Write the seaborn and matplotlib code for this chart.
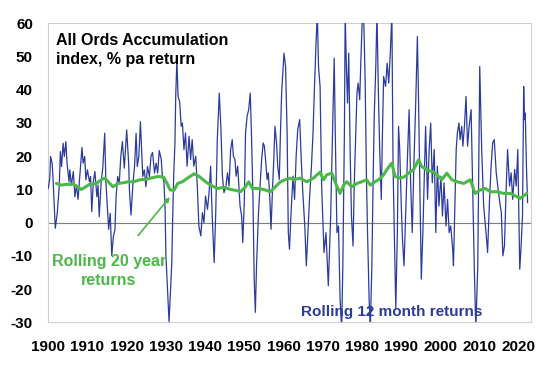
import matplotlib
matplotlib.use("Agg")
import matplotlib.pyplot as plt
import pandas as pd
import seaborn as sns

# Rolling 12 month returns (% pa)
years_12m = [
    1900.0, 1900.4, 1900.6, 1901.0, 1901.2, 1901.8, 1902.3, 1902.8, 1903.1, 1903.4,
    1903.8, 1904.1, 1904.5, 1904.8, 1905.3, 1905.5, 1905.9, 1906.4, 1906.8, 1907.2,
    1907.6, 1908.1, 1908.6, 1908.9, 1909.3, 1909.6, 1910.0, 1910.5, 1910.8, 1911.1,
    1911.5, 1911.9, 1912.4, 1912.7, 1913.0, 1913.5, 1913.9, 1914.4, 1914.7, 1915.4,
    1915.8, 1916.2, 1916.6, 1917.0, 1917.3, 1917.7, 1918.1, 1918.5, 1918.9, 1919.4,
    1920.0, 1920.5, 1920.7, 1921.1, 1921.6, 1922.0, 1922.4, 1922.7, 1923.1, 1923.5,
    1923.8, 1924.1, 1924.5, 1924.9, 1925.3, 1925.8, 1926.2, 1926.6, 1927.1, 1927.5,
    1927.9, 1928.3, 1928.8, 1929.1, 1929.5, 1929.8, 1930.0, 1930.4, 1930.8, 1931.1,
    1931.5, 1931.7, 1932.0, 1932.3, 1932.5, 1932.8, 1933.1, 1933.5,
    1933.9, 1934.2, 1934.6, 1935.0, 1935.4, 1935.9, 1936.3, 1936.7, 1937.1, 1937.6,
    1938.0, 1938.4, 1938.9, 1939.3, 1939.7, 1940.1, 1940.6, 1941.0, 1941.4, 1941.8,
    1942.3, 1942.7, 1943.1, 1943.6, 1944.0, 1944.4, 1944.8, 1945.3, 1945.7, 1946.1,
    1946.5, 1946.9, 1947.2, 1947.6, 1947.9, 1948.3, 1948.6, 1948.9, 1949.3, 1949.6,
    1950.0, 1950.3, 1950.7, 1951.1, 1951.5, 1951.8, 1952.2, 1952.5, 1952.8, 1953.1,
    1953.6, 1954.0, 1954.4, 1954.8, 1955.1, 1955.4, 1955.8, 1956.1, 1956.5, 1956.8,
    1957.2, 1957.5, 1957.8, 1958.2, 1958.5, 1958.9, 1959.2, 1959.5, 1960.1, 1960.5,
    1960.9, 1961.2, 1961.5, 1961.9, 1962.4, 1962.8, 1963.2, 1963.6, 1964.1, 1964.5,
    1964.9, 1965.4, 1965.8, 1966.2, 1966.6, 1967.1, 1967.5, 1967.9, 1968.3, 1968.6,
    1968.9, 1969.3,
    1969.7, 1970.3, 1970.8, 1971.4, 1972.0, 1972.5, 1972.9, 1973.2, 1973.6, 1974.0,
    1974.4, 1974.8, 1975.1, 1975.5, 1975.7, 1976.0, 1976.3, 1976.6, 1977.0, 1977.3,
    1977.7, 1978.0, 1978.4, 1978.7, 1979.0, 1979.4, 1979.7, 1980.1, 1980.4, 1980.8,
    1981.1, 1981.4, 1981.8, 1982.1, 1982.5, 1982.8, 1983.1, 1983.5, 1983.8, 1984.2,
    1984.5, 1984.9, 1985.2, 1985.5, 1986.0, 1986.4, 1986.8, 1987.2, 1987.6, 1987.9,
    1988.3, 1988.6, 1989.0, 1989.3, 1989.6, 1990.0, 1990.3, 1990.7, 1991.1, 1991.5,
    1992.0, 1992.4, 1992.8, 1993.2, 1993.7, 1994.1, 1994.4, 1994.8, 1995.1, 1995.5,
    1995.8, 1996.2, 1996.7, 1997.1, 1997.5, 1997.9, 1998.4, 1998.8, 1999.2, 1999.6,
    2000.1, 2000.5, 2000.9, 2001.4, 2001.8, 2002.2, 2002.6, 2003.1, 2003.3, 2003.7,
    2004.0, 2004.3, 2004.7, 2005.0, 2005.4, 2005.7, 2006.1, 2006.5, 2006.9, 2007.3,
    2007.8, 2008.2, 2008.6, 2009.0, 2009.5, 2010.0, 2010.5, 2011.0, 2011.6, 2012.0,
    2012.5, 2012.9, 2013.3, 2013.7, 2014.2, 2014.6, 2015.0, 2015.5, 2015.9, 2016.3,
    2016.7, 2017.1, 2017.6, 2018.0, 2018.4, 2018.9, 2019.3, 2019.7, 2020.2, 2020.5,
    2020.9, 2021.2, 2021.4, 2021.6, 2021.9, 2022.2,
]
returns_12m = [
    10.3, 13.4, 19.9, 17.9, 13.9, -1.7, 2.8, 10.8, 21.4, 16.9,
    23.9, 19.9, 24.4, 17.9, 12.3, 15.9, 11.3, 15.4, 7.8, 11.3,
    7.0, 14.9, 22.6, 17.9, 19.9, 12.9, 15.9, 12.3, 13.9, 3.3,
    12.3, 15.4, 7.8, 11.3, 1.8, 12.3, 16.4, 26.9, 12.3, -2.0,
    2.8, -9.9, -4.2, -2.2, 7.8, 13.9, 11.8, 19.9, 24.4, 16.4,
    27.9, 17.9, 9.8, 2.3, 11.8, 16.9, 26.9, 16.9, 19.9, 30.4,
    21.9, 13.9, 15.9, 10.8, 16.9, 13.9, 20.1, 21.1, 14.9, 17.9,
    14.9, 21.7, 19.1, 13.9, 12.3, 3.8, -9.9, -20.0, -29.8, -22.3,
    -12.2, 0.0, 14.9, 23.9, 38.0, 49.0, 38.0, 36.4,
    29, 30, 22, 27, 17, 26, 19, 25, 17, 20,
    11, -1, -4, 3, 0, 8, 4, 9, 17, 2,
    -12, 3, 25, 39, 29, 14, 9, 11, 15, 11,
    22, 25, 20, 19, 14, 17, 11, 5, 2, -6,
    7, 27, 32, 34, 39, 27, 7, -17, -27, -13,
    3, 11, 19, 24, 23, 19, 13, 15, 7, -2,
    11, 19, 29, 24, 17, 13, 27, 39, 51, 47,
    27, -3, -8, 3, 14, 7, 20, 28, 31, 19,
    9, -1, -13, -3, 7, 17, 27, 42, 55, 63,
    47, 41,
    11, -9, -3, -19, 2, 29, 49.5, 25, -3, -1,
    -23, -32, -13, 27, 63, 47, 36, 51, 19, 2,
    -7, 11, 27, 39, 42, 37, 49, 63, 63, 42,
    15, -3, -23, -32, -13, 11, 32, 47, 63, 37,
    22, 7, 27, 44, 41, 48, 42, 51, 63, 17,
    -8, -26, -3, 29, 22, 5, -5, -13, 2, 17,
    34, 11, -3, 17, 37, 56, 37, 7, -17, -3,
    11, 29, 7, 22, 30, 12, 22, -3, 17, 5,
    14, 2, 12, -1, 7, -3, -1, -8, -13, 7,
    22, 27, 30, 25, 29, 23, 29, 38, 23, 29,
    34, 11, -13, -32, -13, 47, 22, 5, -3, -9,
    7, 17, 24, 25, 15, 11, 7, 3, -10, -7,
    9, 22, 11, 15, 7, 16, 11, 22, -14, -8,
    2, 41, 31, 33, 17, 6,
]

# Rolling 20 year returns (% pa)
years_20y = [
    1902.1, 1903.3, 1904.5, 1906.3, 1907.5, 1908.4, 1909.3, 1910.5, 1912.3, 1913.5,
    1914.4, 1915.3, 1916.5, 1917.8, 1919.1, 1920.4, 1921.7, 1923.4, 1925.1, 1926.8,
    1928.1, 1929.4, 1930.2, 1931.1, 1932.1, 1933.0, 1934.2, 1935.5, 1937.2, 1938.5,
    1940.1, 1941.4, 1943.1, 1944.8, 1946.5, 1948.2, 1949.0, 1950.3, 1951.1, 1952.0,
    1953.2, 1954.9, 1956.6, 1957.9, 1959.2, 1960.4, 1961.7, 1962.5, 1964.2, 1965.9,
    1967.6, 1969.3, 1970.2, 1971.0, 1972.3, 1973.1, 1974.4, 1975.3, 1976.1, 1977.4,
    1978.7, 1979.9, 1981.2, 1982.1, 1983.3, 1984.2, 1985.5, 1986.3, 1987.2, 1987.6,
    1988.4, 1989.7, 1991.0, 1991.8, 1993.1, 1994.4, 1995.2, 1996.5, 1997.8, 1998.6,
    1999.5, 2000.3, 2001.6, 2002.9, 2004.2, 2005.9, 2007.6, 2008.8, 2010.1, 2011.4,
    2012.7, 2014.4, 2016.1, 2017.8, 2019.5, 2020.3, 2022.0,
]
returns_20y = [
    11.8, 11.3, 11.5, 11.6, 10.8, 10.0, 10.6, 11.5, 11.8, 12.9,
    13.4, 12.3, 10.8, 11.8, 12.0, 12.3, 12.3, 12.9, 13.1, 13.6,
    13.9, 13.7, 12.0, 9.8, 9.8, 11.8, 12.3, 13.4, 14.7, 13.9,
    12.3, 11.3, 10.3, 10.6, 10.0, 9.6, 9.3, 10.8, 12.3, 10.3,
    10.3, 10.0, 9.3, 10.8, 12.3, 12.9, 13.4, 12.9, 13.4, 12.3,
    13.4, 15.2, 12.9, 14.4, 14.9, 12.3, 8.8, 11.3, 12.3, 10.8,
    11.8, 12.3, 12.9, 11.3, 12.3, 12.9, 14.4, 15.9, 17.4, 17.9,
    13.9, 13.4, 13.9, 14.9, 15.9, 18.9, 16.9, 15.9, 15.4, 14.9,
    13.9, 12.9, 14.9, 12.9, 12.3, 11.8, 12.9, 8.8, 9.8, 10.3,
    9.3, 9.3, 8.8, 8.8, 7.8, 7.3, 8.8,
]

x_ticks = list(range(1900, 2021, 10))
y_ticks = list(range(-30, 61, 10))

blue = "#2B3C9B"
green = "#4CB848"

df12 = pd.DataFrame({"year": years_12m, "ret": returns_12m})
df20 = pd.DataFrame({"year": years_20y, "ret": returns_20y})

sns.set_style("white")
plt.rcParams["font.family"] = ["Liberation Sans", "DejaVu Sans"]
plt.rcParams["font.weight"] = "bold"
plt.rcParams["axes.unicode_minus"] = False

fig, ax = plt.subplots(figsize=(5.48, 3.66), dpi=100)
fig.subplots_adjust(left=0.088, right=0.9685, top=0.9363, bottom=0.1194)

ax.axhline(0, color="#7F7F7F", lw=0.8, zorder=1)
sns.lineplot(data=df12, x="year", y="ret", ax=ax, color=blue, lw=0.9,
             estimator=None, zorder=3)
sns.lineplot(data=df20, x="year", y="ret", ax=ax, color=green, lw=2.2,
             estimator=None, zorder=4)

ax.set_xlim(1900, 2023)
ax.set_ylim(-30, 60)
ax.set_xticks(x_ticks)
ax.set_yticks(y_ticks)
ax.set_xlabel("")
ax.set_ylabel("")
ax.tick_params(axis="both", labelsize=11, colors="#BFBFBF", labelcolor="black",
               length=4, width=0.8, direction="out")
ax.tick_params(axis="x", pad=9)
ax.tick_params(axis="y", pad=7)
for lab in ax.get_xticklabels() + ax.get_yticklabels():
    lab.set_fontweight("bold")
for sp in ax.spines.values():
    sp.set_color("#D0D0D0")
    sp.set_linewidth(0.8)

ax.text(1902, 57, "All Ords Accumulation\nindex, % pa return", fontsize=11.5,
        fontweight="bold", color="black", va="top", ha="left", linespacing=1.3)
ax.annotate("Rolling 20 year\nreturns", xy=(1931.0, 7.7), xytext=(1915.5, -14.5),
            fontsize=11.5, fontweight="bold", color=green, ha="center", va="center",
            linespacing=1.35,
            arrowprops=dict(arrowstyle="-|>", color=green, lw=1.2, mutation_scale=7,
                            shrinkA=14, shrinkB=0))
ax.text(1964.5, -26.8, "Rolling 12 month returns", fontsize=11, fontweight="bold",
        color=blue, ha="left", va="center")

fig.savefig("out.png", dpi=100)
